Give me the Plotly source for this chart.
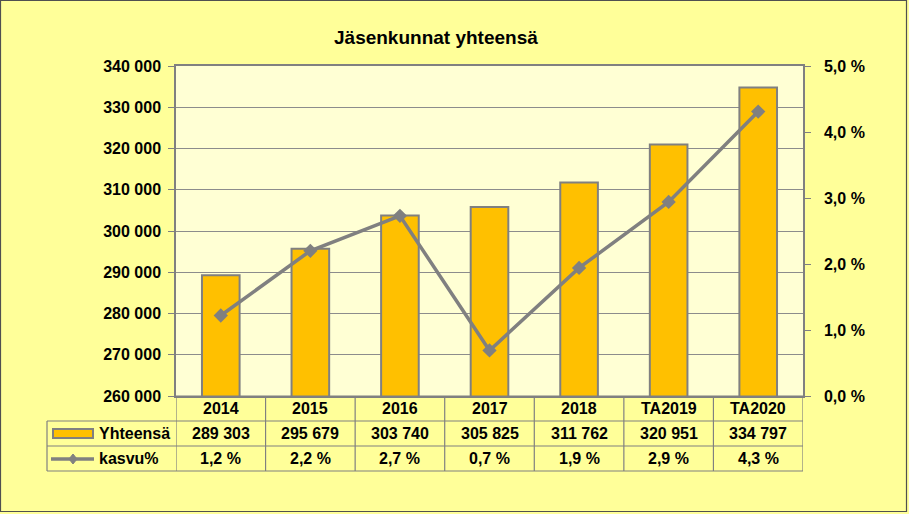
import plotly.graph_objects as go

categories = ["2014", "2015", "2016", "2017", "2018", "TA2019", "TA2020"]
members = [289303, 295679, 303740, 305825, 311762, 320951, 334797]
growth = [1.22, 2.20, 2.73, 0.69, 1.94, 2.94, 4.31]
title_text = "Jäsenkunnat yhteensä"
series_names = ["Yhteensä", "kasvu%"]

# layout geometry (pixels)
W, H = 909, 514
L, R, T, B = 176, 803, 66, 396
pw, ph = R - L, B - T

def px2x(xp):
    return (xp - L) / pw

def px2y(yp):
    return (B - yp) / ph

GOLD = "#FFC000"
GREY = "#808080"
FONT = "Liberation Sans"
n = len(categories)
xs = list(range(n))

fig = go.Figure()
fig.add_trace(go.Bar(
    x=xs, y=members, width=0.42, name=series_names[0],
    marker=dict(color=GOLD, line=dict(color=GREY, width=2)),
    yaxis="y",
))
fig.add_trace(go.Scatter(
    x=xs, y=growth, mode="lines+markers", name=series_names[1],
    line=dict(color=GREY, width=3.5),
    marker=dict(symbol="diamond", size=11, color=GREY),
    yaxis="y2",
))

tickfont = dict(family=FONT, size=16, color="black", weight="bold")

fig.update_layout(
    width=W, height=H,
    margin=dict(l=L, r=W - R, t=T, b=H - B, pad=0),
    paper_bgcolor="#FFFF99",
    plot_bgcolor="#FFFFD4",
    separators=", ",
    showlegend=False,
    xaxis=dict(range=[-0.5, n - 0.5], showticklabels=False, showgrid=False,
               zeroline=False, showline=True, mirror=True, linecolor=GREY,
               linewidth=1.5, ticks=""),
    yaxis=dict(range=[260000, 340000], dtick=10000, tickformat=",d",
               showgrid=True, gridcolor="#8C8C8C", gridwidth=1, zeroline=False,
               showline=True, linecolor=GREY, linewidth=1.5,
               ticks="outside", ticklen=6, tickcolor=GREY,
               tickfont=tickfont, ticklabelstandoff=4),
    yaxis2=dict(range=[0, 5], dtick=1, tickformat=".1f", ticksuffix=" %",
                overlaying="y", side="right", showgrid=False, zeroline=False,
                showline=True, linecolor=GREY, linewidth=1.5,
                ticks="outside", ticklen=6, tickcolor=GREY,
                tickfont=tickfont, ticklabelstandoff=10),
)

shapes = []
anns = []
line_style = dict(color=GREY, width=1.2)

# table rows (pixel y)
rows = [396, 421, 446, 471]
leg_left = px2x(47)
# horizontal lines
shapes.append(dict(type="line", xref="paper", yref="paper", x0=0, x1=1,
                   y0=px2y(rows[0]), y1=px2y(rows[0]), line=line_style))
for yp in rows[1:]:
    shapes.append(dict(type="line", xref="paper", yref="paper", x0=leg_left, x1=1,
                       y0=px2y(yp), y1=px2y(yp), line=line_style))
# vertical lines
for i in range(n + 1):
    shapes.append(dict(type="line", xref="x", yref="paper", x0=i - 0.5, x1=i - 0.5,
                       y0=px2y(rows[0]), y1=px2y(rows[3]), line=line_style))
shapes.append(dict(type="line", xref="paper", yref="paper", x0=leg_left, x1=leg_left,
                   y0=px2y(rows[1]), y1=px2y(rows[3]), line=line_style))

cell_font = dict(family=FONT, size=16, color="black", weight="bold")

def fmt_int(v):
    return f"{v:,}".replace(",", " ")

def fmt_pct(p):
    return f"{p:.1f}".replace(".", ",") + " %"

row_centers = [(rows[k] + rows[k + 1]) / 2 for k in range(3)]
for i in range(n):
    anns.append(dict(x=i, xref="x", y=px2y(row_centers[0]), yref="paper",
                     text=categories[i], showarrow=False, font=cell_font,
                     xanchor="center", yanchor="middle"))
    anns.append(dict(x=i, xref="x", y=px2y(row_centers[1]), yref="paper",
                     text=fmt_int(members[i]), showarrow=False, font=cell_font,
                     xanchor="center", yanchor="middle"))
    anns.append(dict(x=i, xref="x", y=px2y(row_centers[2]), yref="paper",
                     text=fmt_pct(growth[i]), showarrow=False, font=cell_font,
                     xanchor="center", yanchor="middle"))

# legend keys
shapes.append(dict(type="rect", xref="paper", yref="paper",
                   x0=px2x(53), x1=px2x(93), y0=px2y(429), y1=px2y(438),
                   fillcolor=GOLD, line=dict(color=GREY, width=2)))
shapes.append(dict(type="line", xref="paper", yref="paper",
                   x0=px2x(51), x1=px2x(94), y0=px2y(459), y1=px2y(459),
                   line=dict(color=GREY, width=3.5)))
shapes.append(dict(type="path", xref="paper", yref="paper",
                   path=(f"M {px2x(73)} {px2y(454)} L {px2x(77)} {px2y(459)} "
                         f"L {px2x(73)} {px2y(464)} L {px2x(69)} {px2y(459)} Z"),
                   fillcolor=GREY, line=dict(color=GREY, width=1)))
anns.append(dict(x=px2x(97), xref="paper", y=px2y(row_centers[1]), yref="paper",
                 text=series_names[0], showarrow=False, font=cell_font,
                 xanchor="left", yanchor="middle"))
anns.append(dict(x=px2x(97), xref="paper", y=px2y(row_centers[2]), yref="paper",
                 text=series_names[1], showarrow=False, font=cell_font,
                 xanchor="left", yanchor="middle"))

# title
anns.append(dict(x=px2x(436), xref="paper", y=px2y(38), yref="paper",
                 text=title_text, showarrow=False,
                 font=dict(family=FONT, size=19, color="black", weight="bold"),
                 xanchor="center", yanchor="middle"))

# outer border
shapes.append(dict(type="rect", xref="paper", yref="paper",
                   x0=px2x(0.5), x1=px2x(906.5), y0=px2y(511.5), y1=px2y(0.5),
                   line=dict(color="#505050", width=1.2), fillcolor="rgba(0,0,0,0)"))

fig.update_layout(shapes=shapes, annotations=anns)
fig.write_html("out.html")
